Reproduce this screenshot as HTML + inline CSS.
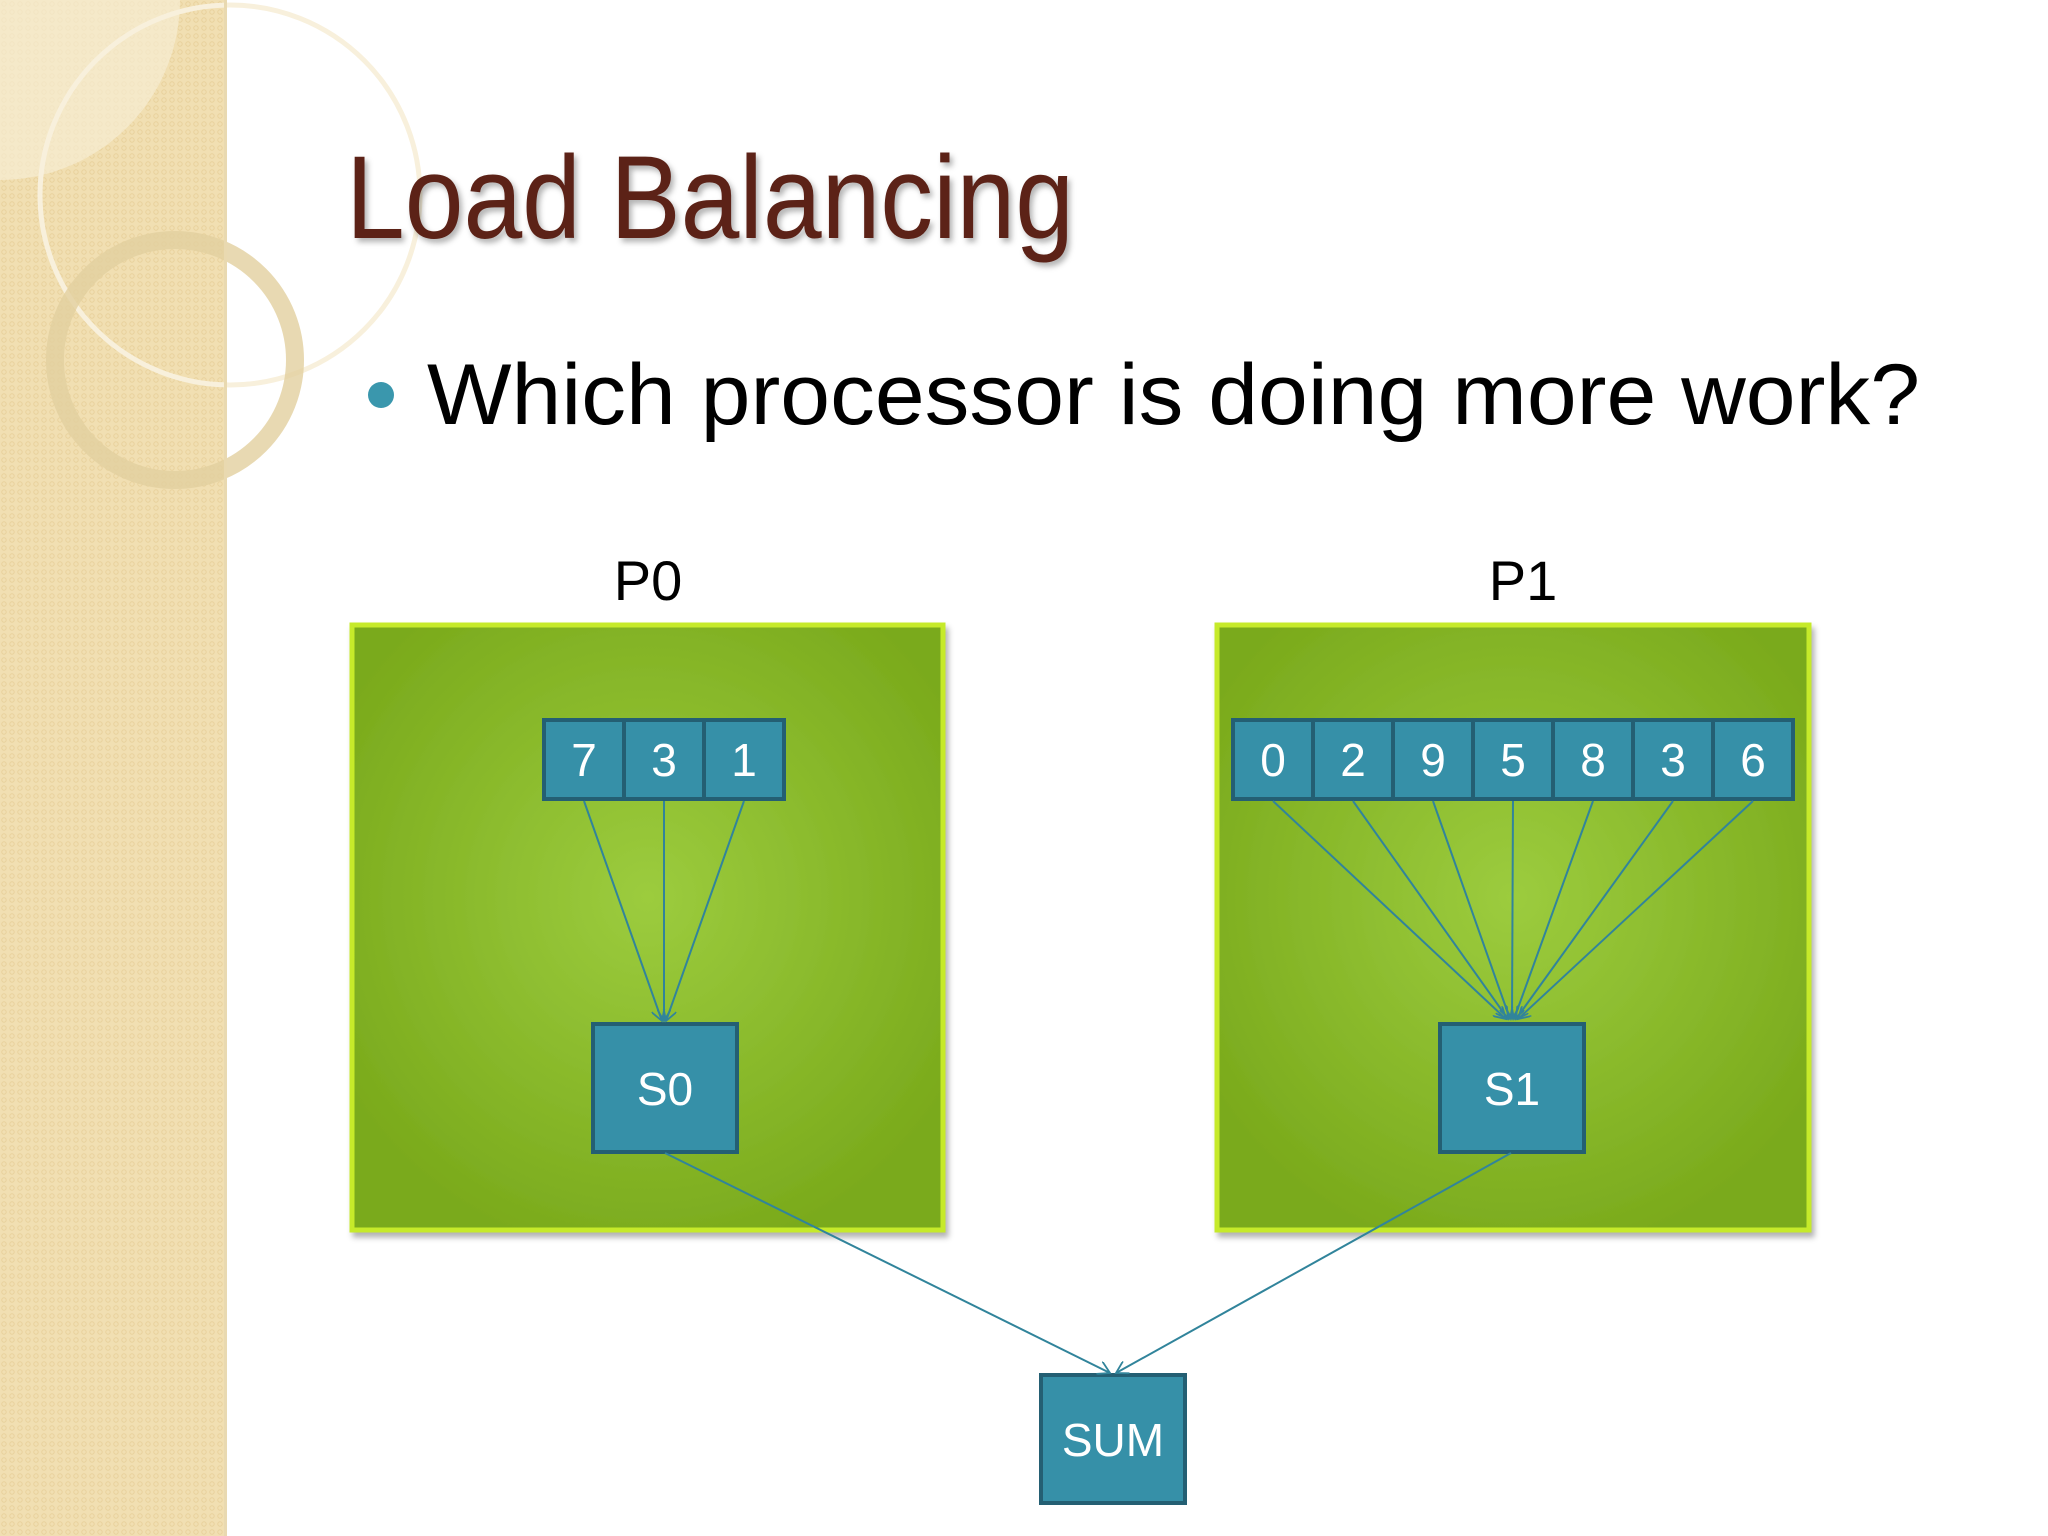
<!DOCTYPE html>
<html><head><meta charset="utf-8"><style>html,body{margin:0;padding:0;background:#fff}svg{display:block}</style></head>
<body>
<svg width="2048" height="1536" viewBox="0 0 2048 1536" xmlns="http://www.w3.org/2000/svg" font-family="Liberation Sans, sans-serif">
<defs>
<pattern id="dots" width="8" height="8" patternUnits="userSpaceOnUse">
<rect width="8" height="8" fill="#f1dfb2"/>
<circle cx="4" cy="4" r="2.2" fill="none" stroke="#e8d19c" stroke-width="1"/>
</pattern>
<radialGradient id="g" cx="50%" cy="45%" r="60%">
<stop offset="0" stop-color="#9ccc3e"/>
<stop offset="1" stop-color="#7aaa1c"/>
</radialGradient>
<filter id="sh" x="-5%" y="-5%" width="110%" height="110%"><feDropShadow dx="3" dy="5" stdDeviation="3" flood-color="#000" flood-opacity="0.3"/></filter>
<marker id="ah" markerWidth="14" markerHeight="14" refX="12" refY="7" orient="auto" markerUnits="userSpaceOnUse">
<path d="M0,0 L12,7 L0,14" fill="none" stroke="#31849b" stroke-width="1.8"/>
</marker>
</defs>
<rect x="0" y="0" width="226" height="1536" fill="url(#dots)"/>
<path d="M0,0 H180 A180,180 0 0 1 0,180 Z" fill="#f6ecd3" opacity="0.7"/>
<circle cx="230" cy="195" r="190" fill="none" stroke="#f8f0dc" stroke-width="5"/>
<circle cx="175" cy="360" r="120" fill="none" stroke="#e2cf9f" stroke-width="18" opacity="0.8"/>
<rect x="224" y="0" width="3" height="1536" fill="#e9d9b0"/>

<text x="346" y="238" font-size="118" fill="#5c2217" textLength="728" lengthAdjust="spacingAndGlyphs" style="filter:drop-shadow(3px 4px 3px rgba(0,0,0,0.3))">Load Balancing</text>
<circle cx="381" cy="395" r="13" fill="#3a97ad"/>
<text x="427" y="424" font-size="86" fill="#000" textLength="1493" lengthAdjust="spacingAndGlyphs">Which processor is doing more work?</text>

<text x="648" y="600" font-size="56" text-anchor="middle" fill="#000">P0</text>
<text x="1523" y="600" font-size="56" text-anchor="middle" fill="#000">P1</text>

<g filter="url(#sh)">
<rect x="352" y="625" width="591" height="605" fill="url(#g)" stroke="#c6ea2a" stroke-width="5"/>
<rect x="1217" y="625" width="592" height="605" fill="url(#g)" stroke="#c6ea2a" stroke-width="5"/>
</g>

<g fill="#3690a8" stroke="#245f73" stroke-width="4">
<rect x="544" y="720" width="80" height="79"/><rect x="624" y="720" width="80" height="79"/><rect x="704" y="720" width="80" height="79"/>
<rect x="1233" y="720" width="80" height="79"/><rect x="1313" y="720" width="80" height="79"/><rect x="1393" y="720" width="80" height="79"/><rect x="1473" y="720" width="80" height="79"/><rect x="1553" y="720" width="80" height="79"/><rect x="1633" y="720" width="80" height="79"/><rect x="1713" y="720" width="80" height="79"/>
<rect x="593" y="1024" width="144" height="128"/>
<rect x="1440" y="1024" width="144" height="128"/>
<rect x="1041" y="1375" width="144" height="128"/>
</g>
<g fill="#fff" font-size="46" text-anchor="middle">
<text x="584" y="776">7</text><text x="664" y="776">3</text><text x="744" y="776">1</text>
<text x="1273" y="776">0</text><text x="1353" y="776">2</text><text x="1433" y="776">9</text><text x="1513" y="776">5</text><text x="1593" y="776">8</text><text x="1673" y="776">3</text><text x="1753" y="776">6</text>
<text x="665" y="1105">S0</text><text x="1512" y="1105">S1</text><text x="1113" y="1456">SUM</text>
</g>
<g stroke="#31849b" stroke-width="2" fill="none" marker-end="url(#ah)">
<line x1="584" y1="801" x2="662" y2="1021"/><line x1="664" y1="801" x2="664" y2="1021"/><line x1="744" y1="801" x2="666" y2="1021"/>
<line x1="1273" y1="801" x2="1506" y2="1019"/><line x1="1353" y1="801" x2="1508" y2="1019"/><line x1="1433" y1="801" x2="1510" y2="1019"/><line x1="1513" y1="801" x2="1512" y2="1019"/><line x1="1593" y1="801" x2="1514" y2="1019"/><line x1="1673" y1="801" x2="1516" y2="1019"/><line x1="1753" y1="801" x2="1518" y2="1019"/>
<line x1="665" y1="1153" x2="1110" y2="1373"/><line x1="1511" y1="1153" x2="1116" y2="1373"/>
</g>
</svg>
</body></html>
